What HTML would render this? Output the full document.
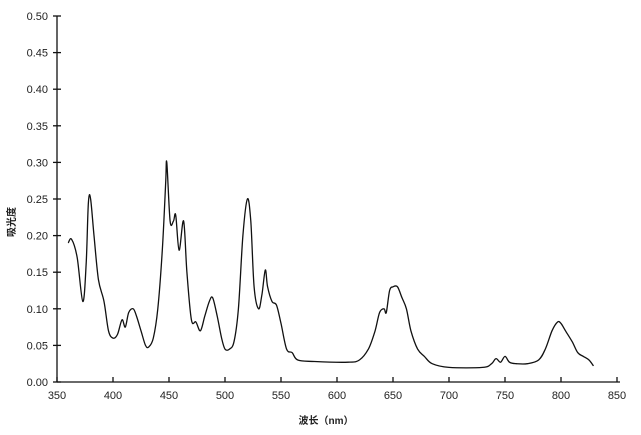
<!DOCTYPE html>
<html><head><meta charset="utf-8"><style>
body{margin:0;background:#fff}
svg{display:block}
text{font-family:"Liberation Sans","Noto Sans CJK SC",sans-serif;font-size:11px;fill:#222}
</style></head><body>
<svg id="s" width="641" height="435" xmlns="http://www.w3.org/2000/svg">
<g stroke="#111" stroke-width="1.3" fill="none" id="ax">
<line x1="57" y1="16" x2="57" y2="382"/>
<line x1="57" y1="382" x2="620" y2="382"/>
</g>
<text x="15" y="222" transform="rotate(-90 15 222)" text-anchor="middle" font-weight="bold" style="font-size:10px">吸光度</text>
<text x="326" y="424" text-anchor="middle" font-weight="bold" style="font-size:10px">波长（nm）</text>
<path id="p" fill="none" stroke="#111" stroke-width="1.3"/>
</svg>
<script>
var s=document.getElementById('s'),ax=document.getElementById('ax'),NS='http://www.w3.org/2000/svg';
function X(n){return 57+(n-350)*1.12}function Y(v){return 382-v*732}
function el(t,a,p){var e=document.createElementNS(NS,t);for(var k in a)e.setAttribute(k,a[k]);(p||s).appendChild(e);return e}
for(var i=0;i<=10;i++){var y=Y(i*0.05);el('line',{x1:53,y1:y,x2:61,y2:y},ax);var t=el('text',{x:48,y:y+4,'text-anchor':'end'});t.textContent=(i*0.05).toFixed(2);}
for(var n=350;n<=850;n+=50){var x=X(n);el('line',{x1:x,y1:382,x2:x,y2:377},ax);var t=el('text',{x:x,y:399,'text-anchor':'middle'});t.textContent=n;}
var d=[[360,.19],[363,.195],[368,.17],[373,.11],[376,.16],[378,.245],[380,.25],[383,.2],[387,.14],[392,.11],[396,.07],[400,.06],[404,.065],[408,.085],[411,.075],[414,.095],[418,.1],[421,.09],[425,.07],[429,.05],[432,.048],[436,.06],[440,.1],[444,.18],[447,.27],[448,.3],[451,.22],[454,.22],[456,.228],[459,.18],[463,.22],[466,.15],[470,.085],[474,.082],[478,.07],[482,.09],[486,.11],[489,.115],[493,.09],[497,.06],[500,.045],[504,.045],[508,.055],[512,.1],[516,.2],[520,.25],[523,.22],[526,.13],[530,.1],[533,.12],[536,.153],[538,.13],[542,.11],[546,.105],[550,.08],[555,.045],[560,.04],[565,.03],[580,.028],[610,.027],[620,.03],[628,.045],[634,.07],[638,.095],[642,.1],[644,.095],[647,.125],[650,.13],[654,.13],[658,.115],[662,.1],[666,.07],[672,.045],[678,.035],[685,.025],[700,.02],[730,.02],[738,.025],[742,.032],[746,.027],[750,.035],[754,.027],[760,.025],[770,.025],[780,.03],[786,.045],[792,.07],[797,.082],[800,.08],[804,.07],[810,.055],[815,.04],[820,.035],[825,.03],[829,.022]];
var P=d.map(function(a){return[X(a[0]),Y(a[1])]});
var str='M'+P[0][0].toFixed(1)+','+P[0][1].toFixed(1);
for(var i=0;i<P.length-1;i++){var p0=P[i-1]||P[i],p1=P[i],p2=P[i+1],p3=P[i+2]||p2;
str+='C'+(p1[0]+(p2[0]-p0[0])/6).toFixed(1)+','+(p1[1]+(p2[1]-p0[1])/6).toFixed(1)+' '+(p2[0]-(p3[0]-p1[0])/6).toFixed(1)+','+(p2[1]-(p3[1]-p1[1])/6).toFixed(1)+' '+p2[0].toFixed(1)+','+p2[1].toFixed(1);}
document.getElementById('p').setAttribute('d',str);
</script>
</body></html>
